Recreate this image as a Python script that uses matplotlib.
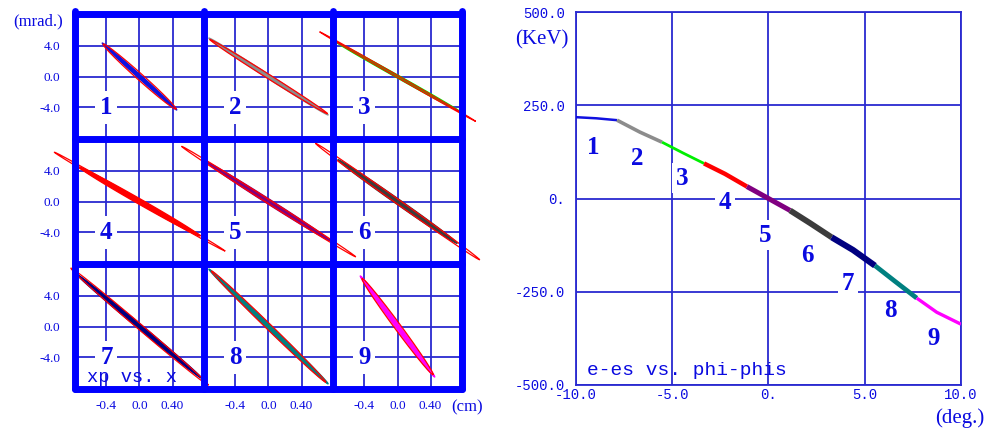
import numpy as np
import matplotlib
matplotlib.use("Agg")
import matplotlib.pyplot as plt

# ---------------- data ----------------
# transverse phase space (xp vs. x) for nine bunch slices
slice_labels = ["1", "2", "3", "4", "5", "6", "7", "8", "9"]
slice_colors = ["#1010e0", "#8c8c8c", "#00ee00", "#ff0000", "#800080",
                "#3c3c3c", "#000080", "#008080", "#ff00ff"]

# beam band: half length in x (cm), x-xp correlation (mrad/cm), half width (mrad)
beam_half_x = [0.45, 0.72, 0.74, 0.73, 0.74, 0.72, 0.75, 0.72, 0.45]
beam_slope = [-9.6, -6.9, -6.0, -6.1, -6.8, -7.5, -8.9, -10.3, -14.5]
beam_half_w = [0.30, 0.28, 0.20, 0.38, 0.36, 0.40, 0.38, 0.40, 0.45]

# emittance ellipse: half length in x (cm), correlation (mrad/cm), half width (mrad)
ell_half_x = [0.44, 0.71, 0.94, 1.03, 1.05, 0.99, 0.83, 0.69, 0.43]
ell_slope = [-9.5, -6.75, -6.15, -6.2, -6.8, -7.6, -9.1, -10.4, -14.4]
ell_half_w = [0.55, 0.32, 0.15, 0.25, 0.30, 0.35, 0.45, 0.50, 0.70]

x_ticks = [-0.4, 0.0, 0.4]
x_tick_labels = ["-0.4", "0.0", "0.40"]
xp_ticks = [-4.0, 0.0, 4.0]
xp_tick_labels = ["-4.0", "0.0", "4.0"]

# longitudinal phase space (e-es vs. phi-phis)
phase_deg = [-10.0, -8.94, -7.87, -6.68, -5.53, -4.44, -3.35, -2.26, -1.12,
             0.0, 1.12, 2.16, 3.28, 4.39, 5.53, 6.57, 7.70, 8.74, 10.0]
energy_kev = [218, 215, 210, 178, 151, 122, 94, 66, 32,
              0, -32, -66, -104, -138, -180, -222, -267, -305, -337]
phase_ticks = [-10.0, -5.0, 0.0, 5.0, 10.0]
phase_tick_labels = ["-10.0", "-5.0", "0.", "5.0", "10.0"]
energy_ticks = [-500.0, -250.0, 0.0, 250.0, 500.0]
energy_tick_labels = ["-500.0", "-250.0", "0.", "250.0", "500.0"]

# ---------------- styling ----------------
W, H = 987, 432
FRAME = "#0000ff"
GRID = "#2a2ad0"
TXT = "#0a0ae0"
SERIF = "Liberation Serif"
MONO = "Liberation Mono"

fig = plt.figure(figsize=(W / 100, H / 100), dpi=100)
fig.patch.set_facecolor("white")


def fx(px):
    return px / W


def fy(py):
    return 1 - py / H


# ---------------- left: 3x3 grid of xp vs. x ----------------
gx0, gx1, gy0, gy1 = 75, 462, 14, 389
cw = (gx1 - gx0) / 3
rh = (gy1 - gy0) / 3
t = np.linspace(0, 2 * np.pi, 240)

for k in range(9):
    r, c = divmod(k, 3)
    ax = fig.add_axes([fx(gx0 + c * cw), fy(gy0 + (r + 1) * rh), cw / W, rh / H])
    ax.set_facecolor("none")
    ax.set_xlim(-0.78, 0.78)
    ax.set_ylim(-8.1, 8.1)
    for s in ax.spines.values():
        s.set_visible(False)
    ax.set_xticks(x_ticks)
    ax.set_xticklabels(x_tick_labels)
    ax.set_yticks(xp_ticks)
    ax.set_yticklabels(xp_tick_labels)
    ax.tick_params(length=0, colors=TXT, labelsize=9.5,
                   labelleft=(c == 0), labelbottom=(r == 2))
    ax.tick_params(axis="y", pad=10.5)
    ax.tick_params(axis="x", pad=8)
    for lab in ax.get_xticklabels() + ax.get_yticklabels():
        lab.set_fontfamily(SERIF)
    ax.grid(True, color=GRID, lw=1.3)
    ax.set_axisbelow(True)

    # beam particles band
    bx = beam_half_x[k] * np.cos(t)
    by = beam_slope[k] * bx + beam_half_w[k] * np.sin(t)
    ax.fill(bx, by, color=slice_colors[k], lw=1.0, ec=slice_colors[k],
            zorder=3, clip_on=False)
    # emittance ellipse outline
    ex = ell_half_x[k] * np.cos(t)
    ey = ell_slope[k] * ex + ell_half_w[k] * np.sin(t)
    ax.plot(ex, ey, color="#ff0000", lw=0.9, zorder=4, clip_on=False)

    ax.text(-0.4, -4.0, slice_labels[k], ha="center", va="center",
            fontsize=18, fontweight="bold", family=SERIF, color=TXT, zorder=5,
            bbox=dict(facecolor="white", edgecolor="none", pad=3.5))
    if k == 6:
        ax.text(0.093, 0.096, "xp vs. x", transform=ax.transAxes,
                ha="left", va="center", family=MONO, fontsize=13.5,
                color=TXT, zorder=5)

# thick frame over the whole grid
ov = fig.add_axes([fx(gx0), fy(gy1), (gx1 - gx0) / W, (gy1 - gy0) / H])
ov.set_xlim(0, 3)
ov.set_ylim(0, 3)
ov.axis("off")
ov.patch.set_visible(False)
for v in range(4):
    ov.plot([v, v], [0, 3.02], color=FRAME, lw=5, solid_capstyle="round",
            clip_on=False, zorder=10)
    ov.plot([0, 3], [v, v], color=FRAME, lw=5, solid_capstyle="round",
            clip_on=False, zorder=10)

fig.text(fx(38), fy(21), "(mrad.)", ha="center", va="center",
         family=SERIF, fontsize=12, color=TXT)
fig.text(fx(467), fy(407), "(cm)", ha="center", va="center",
         family=SERIF, fontsize=12, color=TXT)

# ---------------- right: e-es vs. phi-phis ----------------
rx0, rx1, ry0, ry1 = 576, 961, 12, 385
axr = fig.add_axes([fx(rx0), fy(ry1), (rx1 - rx0) / W, (ry1 - ry0) / H])
axr.set_xlim(-10, 10)
axr.set_ylim(-500, 500)
axr.set_xticks(phase_ticks)
axr.set_xticklabels(phase_tick_labels)
axr.set_yticks(energy_ticks)
axr.set_yticklabels(energy_tick_labels)
axr.tick_params(length=0, colors=TXT, labelsize=10)
axr.tick_params(axis="y", pad=8)
axr.tick_params(axis="x", pad=2)
for lab in axr.get_xticklabels() + axr.get_yticklabels():
    lab.set_fontfamily(MONO)
for s in axr.spines.values():
    s.set_color(GRID)
    s.set_linewidth(1.3)
axr.grid(True, color=GRID, lw=1.3)
axr.set_axisbelow(True)

seg_widths = [1.8, 2.6, 2.0, 3.2, 3.6, 4.2, 4.4, 3.4, 2.4]
for k in range(9):
    xs = phase_deg[2 * k:2 * k + 3]
    ys = energy_kev[2 * k:2 * k + 3]
    axr.plot(xs, ys, color=slice_colors[k], lw=seg_widths[k],
             solid_capstyle="butt", zorder=3)

label_pos = [(-9.12, 137), (-6.83, 108), (-4.49, 54), (-2.26, -11),
             (-0.18, -99), (2.0, -153), (4.13, -228), (6.31, -301),
             (8.55, -374)]
for k, (lx, ly) in enumerate(label_pos):
    axr.text(lx, ly, slice_labels[k], ha="center", va="center",
             fontsize=18, fontweight="bold", family=SERIF, color=TXT,
             zorder=5, bbox=dict(facecolor="white", edgecolor="none", pad=2.5))

axr.text(0.029, 0.04, "e-es vs. phi-phis", transform=axr.transAxes,
         ha="left", va="center", family=MONO, fontsize=14, color=TXT)
fig.text(fx(542), fy(40), "(KeV)", ha="center", va="center",
         family=SERIF, fontsize=15, color=TXT)
fig.text(fx(960), fy(418), "(deg.)", ha="center", va="center",
         family=SERIF, fontsize=15, color=TXT)

fig.savefig("out.png", dpi=100, facecolor="white")
